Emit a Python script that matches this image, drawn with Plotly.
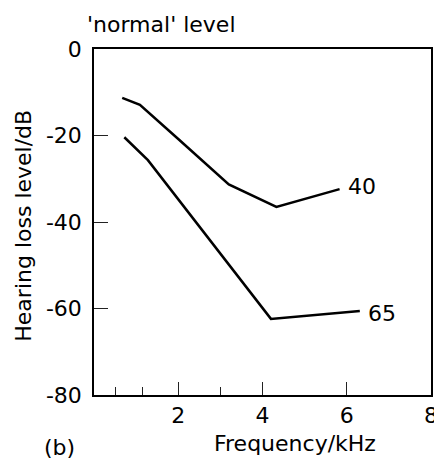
import plotly.graph_objects as go

# Data
freq_40 = [0.67, 1.09, 2.0, 3.2, 4.33, 5.83]
loss_40 = [-11.3, -12.9, -20.8, -31.3, -36.5, -32.4]
freq_65 = [0.72, 1.28, 4.2, 6.31]
loss_65 = [-20.4, -25.7, -62.4, -60.6]

x_major_ticks = [2, 4, 6, 8]
x_minor_ticks = [0.5, 1.15, 3]
y_ticks = [0, -20, -40, -60, -80]

FONT = "DejaVu Sans"
FS = 22

fig = go.Figure()
fig.add_trace(go.Scatter(x=freq_40, y=loss_40, mode="lines",
                         line=dict(color="black", width=2.5), showlegend=False))
fig.add_trace(go.Scatter(x=freq_65, y=loss_65, mode="lines",
                         line=dict(color="black", width=2.5), showlegend=False))

fig.update_layout(
    width=442, height=461,
    margin=dict(l=86, r=16, t=41, b=74),
    paper_bgcolor="white", plot_bgcolor="white",
    font=dict(family=FONT, size=FS, color="black"),
    xaxis=dict(range=[0, 8], showgrid=False, zeroline=False,
               showline=True, linecolor="black", linewidth=1.5, mirror=True,
               tickmode="array", tickvals=x_major_ticks,
               ticktext=[str(v) for v in x_major_ticks],
               ticks="inside", ticklen=13, tickwidth=1, tickcolor="#222",
               tickfont=dict(family=FONT, size=FS),
               minor=dict(tickmode="array", tickvals=x_minor_ticks,
                          ticks="inside", ticklen=8, tickwidth=1, tickcolor="#222")),
    yaxis=dict(range=[-80, 0], showgrid=False, zeroline=False,
               showline=True, linecolor="black", linewidth=1.5, mirror=True,
               tickmode="array", tickvals=y_ticks,
               ticktext=[str(v) for v in y_ticks],
               ticks="inside", ticklen=14, tickwidth=1, tickcolor="#222",
               ticklabelstandoff=6,
               tickfont=dict(family=FONT, size=FS)),
)

ann = [
    dict(text="'normal' level", x=-0.027, y=1.072, xref="paper", yref="paper",
         xanchor="left", yanchor="middle", showarrow=False),
    dict(text="(b)", x=-0.153, y=-0.153, xref="paper", yref="paper",
         xanchor="left", yanchor="middle", showarrow=False),
    dict(text="Frequency/kHz", x=0.844, y=-0.140, xref="paper", yref="paper",
         xanchor="right", yanchor="middle", showarrow=False),
    dict(text="Hearing loss level/dB", x=-0.209, y=0.488, xref="paper", yref="paper",
         xanchor="center", yanchor="middle", textangle=-90, showarrow=False),
    dict(text="40", x=5.98, y=-31.8, xref="x", yref="y",
         xanchor="left", yanchor="middle", showarrow=False),
    dict(text="65", x=6.46, y=-61.1, xref="x", yref="y",
         xanchor="left", yanchor="middle", showarrow=False),
]
fig.update_layout(annotations=ann)

fig.write_html("out.html")
